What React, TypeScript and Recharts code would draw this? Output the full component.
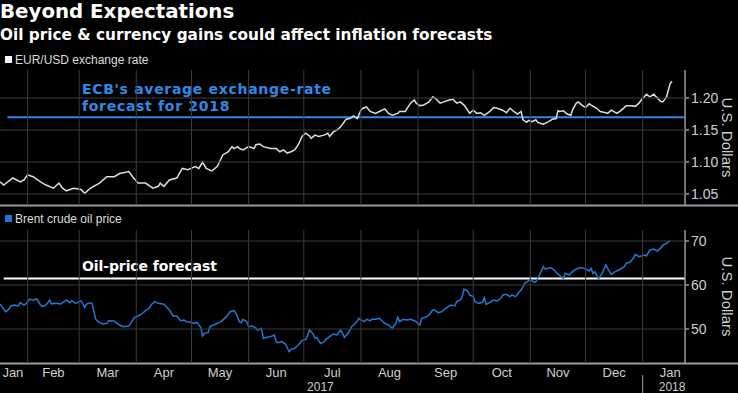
import React from 'react';
import { LineChart, Line, XAxis, YAxis, ReferenceLine } from 'recharts';

// Day-of-year index (0 = 1 Jan 2017)
const monthStarts = [31, 59, 90, 120, 151, 181, 212, 243, 273, 304, 334, 365];
const monthLabelDays = [23, 45, 74.5, 105, 135.5, 166, 196.5, 227.5, 258, 288.5, 319, 349.5, 380];
const monthLabels = ['Jan', 'Feb', 'Mar', 'Apr', 'May', 'Jun', 'Jul', 'Aug', 'Sep', 'Oct', 'Nov', 'Dec', 'Jan'];
const yearLabelDays = [190, 381];
const yearLabels = ['2017', '2018'];
const yearBreakDay = 365;

const eurDays = [16, 18, 23, 27, 29, 31, 34, 38, 41, 45, 48, 50, 52, 56, 60, 62, 65, 70, 74, 78, 81, 86, 88, 91, 95, 99, 102, 103, 105, 108, 112, 115, 118, 122, 124, 126, 128, 131, 134, 137, 140, 142, 143, 145, 146, 148, 151, 154, 155, 157, 159, 163, 166, 168, 170, 172, 174, 176, 178, 180, 182, 184, 185, 187, 189, 192, 194, 195, 197, 199, 201, 203, 204, 206, 208, 210, 212, 213, 215, 217, 220, 222, 225, 227, 229, 232, 233, 236, 239, 241, 242, 244, 246, 249, 251, 253, 255, 257, 260, 262, 264, 266, 268, 270, 271, 273, 275, 277, 279, 280, 282, 284, 286, 289, 291, 293, 295, 297, 299, 300, 302, 303, 305, 307, 308, 311, 314, 316, 318, 319, 320, 322, 324, 326, 327, 329, 330, 332, 334, 336, 337, 340, 342, 345, 346, 348, 351, 353, 355, 356, 359, 361, 363, 365, 366, 367, 369, 371, 373, 375, 376, 378, 379, 380, 381];
const eurValues = [1.069, 1.064, 1.075, 1.069, 1.072, 1.080, 1.077, 1.069, 1.064, 1.059, 1.067, 1.059, 1.055, 1.059, 1.057, 1.051, 1.059, 1.067, 1.077, 1.077, 1.082, 1.085, 1.077, 1.067, 1.067, 1.059, 1.062, 1.067, 1.062, 1.072, 1.075, 1.090, 1.088, 1.093, 1.090, 1.100, 1.090, 1.086, 1.093, 1.111, 1.116, 1.124, 1.121, 1.124, 1.121, 1.119, 1.124, 1.121, 1.127, 1.128, 1.124, 1.121, 1.121, 1.116, 1.119, 1.114, 1.116, 1.119, 1.127, 1.140, 1.145, 1.141, 1.137, 1.142, 1.140, 1.142, 1.145, 1.140, 1.147, 1.150, 1.155, 1.163, 1.167, 1.168, 1.172, 1.168, 1.181, 1.184, 1.186, 1.179, 1.176, 1.179, 1.183, 1.176, 1.173, 1.176, 1.179, 1.179, 1.192, 1.197, 1.192, 1.188, 1.189, 1.194, 1.202, 1.198, 1.192, 1.194, 1.197, 1.198, 1.192, 1.194, 1.189, 1.181, 1.176, 1.181, 1.176, 1.177, 1.173, 1.175, 1.179, 1.185, 1.184, 1.181, 1.177, 1.184, 1.179, 1.175, 1.179, 1.166, 1.162, 1.165, 1.163, 1.166, 1.162, 1.159, 1.163, 1.167, 1.168, 1.180, 1.179, 1.180, 1.175, 1.173, 1.182, 1.192, 1.194, 1.189, 1.185, 1.191, 1.189, 1.184, 1.179, 1.177, 1.176, 1.181, 1.176, 1.180, 1.185, 1.188, 1.188, 1.187, 1.192, 1.200, 1.202, 1.206, 1.202, 1.206, 1.200, 1.194, 1.194, 1.202, 1.213, 1.223, 1.226];

const oilDays = [16, 17, 19, 20, 22, 24, 26, 27, 29, 30, 32, 34, 36, 38, 39, 41, 43, 44, 46, 49, 50, 52, 54, 55, 57, 58, 60, 61, 62, 63, 65, 66, 67, 68, 70, 72, 74, 75, 78, 79, 81, 83, 86, 87, 89, 91, 93, 95, 97, 98, 100, 102, 105, 106, 108, 110, 112, 114, 116, 117, 119, 121, 123, 125, 126, 127, 129, 130, 132, 135, 136, 139, 141, 143, 144, 146, 147, 148, 150, 151, 153, 155, 156, 158, 159, 161, 163, 165, 166, 167, 169, 171, 173, 174, 176, 178, 180, 182, 183, 184, 186, 187, 188, 190, 192, 193, 195, 197, 199, 201, 202, 203, 205, 207, 209, 211, 212, 214, 215, 217, 218, 220, 222, 223, 225, 227, 229, 231, 232, 233, 235, 237, 239, 241, 242, 244, 245, 247, 249, 251, 252, 254, 256, 258, 260, 261, 263, 264, 266, 267, 268, 270, 271, 273, 274, 276, 278, 279, 280, 282, 284, 286, 288, 289, 291, 293, 294, 296, 298, 299, 301, 303, 304, 306, 307, 309, 311, 312, 314, 315, 317, 318, 320, 322, 323, 325, 327, 328, 330, 332, 334, 336, 337, 338, 339, 340, 341, 343, 345, 347, 348, 350, 352, 355, 356, 358, 360, 361, 363, 365, 366, 367, 369, 371, 373, 375, 376, 378, 379, 380];
const oilValues = [55.68, 55.08, 53.94, 54.17, 55.23, 55.45, 55.23, 55.98, 55.45, 55.68, 56.74, 56.59, 56.82, 55.45, 55.08, 55.45, 56.59, 55.68, 55.83, 55.68, 55.98, 56.59, 55.98, 56.44, 55.83, 55.98, 56.44, 55.68, 54.92, 55.68, 55.98, 55.83, 53.94, 52.2, 51.44, 51.14, 51.29, 51.89, 51.82, 51.44, 50.91, 50.53, 50.68, 51.29, 52.65, 52.95, 53.41, 54.17, 54.7, 55.45, 56.21, 55.83, 55.61, 55.23, 54.32, 52.95, 52.95, 51.89, 52.05, 51.67, 51.59, 51.29, 51.44, 50.38, 48.41, 49.01, 49.17, 50.53, 50.91, 51.44, 51.67, 52.8, 53.94, 54.17, 53.71, 51.67, 51.44, 52.2, 51.67, 50.53, 50.68, 50.15, 49.77, 50.15, 47.88, 48.11, 48.26, 48.64, 47.12, 46.89, 47.12, 46.59, 44.85, 45.38, 45.61, 46.36, 47.35, 47.65, 48.41, 49.77, 48.86, 47.88, 48.11, 46.74, 47.05, 47.65, 48.26, 48.86, 48.64, 49.77, 49.02, 48.11, 49.02, 50.53, 51.29, 52.42, 52.05, 51.67, 52.2, 51.89, 52.2, 52.2, 52.42, 52.05, 51.29, 50.91, 50.15, 51.29, 52.65, 51.67, 52.2, 52.05, 52.2, 51.89, 51.67, 50.91, 52.42, 52.65, 53.18, 54.32, 54.32, 53.71, 53.94, 54.7, 55.23, 55.45, 55.23, 56.21, 56.59, 57.35, 59.09, 58.64, 57.73, 57.35, 56.21, 55.83, 56.06, 57.12, 55.61, 56.06, 56.59, 56.36, 56.97, 57.73, 57.88, 57.35, 57.73, 57.35, 58.48, 58.86, 60.38, 60.91, 61.36, 60.61, 60.76, 62.27, 64.17, 63.64, 63.79, 63.94, 63.41, 62.88, 62.12, 61.51, 62.65, 62.27, 63.03, 63.41, 63.79, 63.94, 63.64, 63.18, 63.79, 62.65, 63.03, 62.27, 61.36, 62.65, 64.55, 63.03, 62.42, 63.03, 63.41, 64.17, 64.92, 65.15, 66.06, 66.97, 66.44, 66.67, 66.82, 66.59, 67.95, 68.18, 67.73, 68.48, 69.09, 69.47, 69.85, 70.08];

const eurTicks = [1.05, 1.1, 1.15, 1.2];
const oilTicks = [50, 60, 70];
const ecbForecast = 1.17;
const oilForecast = 61.5;

const eurData = eurDays.map((d, i) => ({ day: d, value: eurValues[i] }));
const oilData = oilDays.map((d, i) => ({ day: d, value: oilValues[i] }));

const X_DOMAIN: [number, number] = [16, 388];
const AXIS_FONT = 'Liberation Sans, Arial, sans-serif';
const BOLD_FONT = 'DejaVu Sans, Verdana, sans-serif';
const BLUE = '#2f8ae6';
const OIL_BLUE = '#1f7ad6';
const GRID = '#3c3c3c';
const AXIS_GRAY = '#9a9a9a';
const TOP_PLOT_H = 135;
const BOTTOM_PLOT_H = 133;
const TICK_GAP = 8; // default tickSize + tickMargin of an x axis

const unitLabel = (props: any) => {
  const vb = props.viewBox || {};
  const cx = vb.x + 42;
  const cy = vb.y + vb.height / 2;
  return (
    <text x={cx} y={cy} transform={`rotate(90, ${cx}, ${cy})`} textAnchor="middle" dominantBaseline="central"
      fill="#cfcfcf" fontSize={15} fontFamily={AXIS_FONT}>U.S. Dollars</text>
  );
};

// Y tick: gridline across the plot, small tick mark, label
const makeYTick = (fmt: (v: number) => string) => (props: any) => {
  const { x, y, payload } = props;
  return (
    <g>
      <line x1={0} x2={x - 6} y1={y} y2={y} stroke={GRID} strokeWidth={1} />
      <line x1={x - 6} x2={x - 2} y1={y} y2={y} stroke={AXIS_GRAY} strokeWidth={1.5} />
      <text x={x} y={y} dominantBaseline="central" fill="#cfcfcf" fontSize={14} fontFamily={AXIS_FONT}>{fmt(payload.value)}</text>
    </g>
  );
};

const vGrid = (x: number, y: number, plotH: number) => (
  <line x1={x} x2={x} y1={y - TICK_GAP - plotH} y2={y - TICK_GAP} stroke={GRID} strokeWidth={1} />
);

const TopGridTick = (props: any) => {
  const { x, y, payload } = props;
  if (monthStarts.indexOf(payload.value) < 0) return <g />;
  return vGrid(x, y, TOP_PLOT_H);
};

const LabelTick = (props: any) => {
  const { x, y, payload } = props;
  const v = payload.value;
  const parts: any[] = [];
  if (monthStarts.indexOf(v) >= 0) {
    parts.push(<g key="g">{vGrid(x, y, BOTTOM_PLOT_H)}</g>);
    if (v === yearBreakDay) {
      parts.push(<line key="s" x1={x} x2={x} y1={y + 4} y2={y + 26} stroke={AXIS_GRAY} strokeWidth={1} />);
    }
  }
  const yi = yearLabelDays.indexOf(v);
  if (yi >= 0) {
    parts.push(
      <text key="y" x={x} y={y + 20} textAnchor="middle" fill="#cfcfcf" fontSize={12} fontFamily={AXIS_FONT}>{yearLabels[yi]}</text>
    );
  }
  const mi = monthLabelDays.indexOf(v);
  if (mi >= 0) {
    parts.push(
      <text key="m" x={x} y={y + 6} textAnchor="middle" fill="#cfcfcf" fontSize={13} fontFamily={AXIS_FONT}>{monthLabels[mi]}</text>
    );
  }
  return <g>{parts}</g>;
};

const EcbLabel = (props: any) => {
  const vb = props.viewBox || {};
  return (
    <g fontFamily={BOLD_FONT} fontWeight="bold" fontSize={14} fill={BLUE} letterSpacing={0.7}>
      <text x={82} y={vb.y - 23}>ECB's average exchange-rate</text>
      <text x={82} y={vb.y - 6.5}>forecast for 2018</text>
    </g>
  );
};

const OilLabel = (props: any) => {
  const vb = props.viewBox || {};
  return (
    <text x={82} y={vb.y - 7.5} fontFamily={BOLD_FONT} fontWeight="bold" fontSize={14} fill="#ffffff" letterSpacing={-0.1}>Oil-price forecast</text>
  );
};

export default function App() {
  return (
    <div style={{ position: 'absolute', left: 0, top: 0, width: 738, height: 393, background: '#000', overflow: 'hidden' }}>
      <svg width={738} height={393} style={{ position: 'absolute', left: 0, top: 0 }}>
        <text x={0} y={18} fill="#fff" fontFamily={BOLD_FONT} fontWeight="bold" fontSize={19.8}>Beyond Expectations</text>
        <text x={0} y={40} fill="#fff" fontFamily={BOLD_FONT} fontWeight="bold" fontSize={15.3}>Oil price &amp; currency gains could affect inflation forecasts</text>
        <rect x={5} y={56} width={7} height={7} fill="#fff" />
        <text x={15} y={63.5} fill="#dcdcdc" fontFamily={AXIS_FONT} fontSize={12}>EUR/USD exchange rate</text>
        <rect x={5} y={215} width={7} height={7} fill={OIL_BLUE} />
        <text x={15} y={222.5} fill="#dcdcdc" fontFamily={AXIS_FONT} fontSize={12}>Brent crude oil price</text>
        <rect x={0} y={204.5} width={738} height={2} fill={AXIS_GRAY} />
        <rect x={0} y={362.5} width={738} height={2} fill={AXIS_GRAY} />
      </svg>

      <div style={{ position: 'absolute', left: 0, top: 70 }}>
        <LineChart width={738} height={TOP_PLOT_H + 2} data={eurData} margin={{ top: 0, right: 0, bottom: 0, left: 0 }}>
          <XAxis dataKey="day" type="number" domain={X_DOMAIN} ticks={monthStarts} allowDataOverflow interval={0}
            height={2} tick={TopGridTick} tickLine={false} axisLine={false} />
          <YAxis orientation="right" type="number" domain={[1.0328, 1.2438]} ticks={eurTicks} allowDataOverflow interval={0}
            width={53} tick={makeYTick((v) => v.toFixed(2))} tickLine={false} tickSize={4} tickMargin={2}
            axisLine={{ stroke: AXIS_GRAY, strokeWidth: 1.5 }} label={{ content: unitLabel }} />
          <ReferenceLine segment={[{ x: 20, y: ecbForecast }, { x: 388, y: ecbForecast }]}
            stroke={BLUE} strokeWidth={2} label={{ content: EcbLabel }} ifOverflow="visible" />
          <Line dataKey="value" stroke="#dedede" strokeWidth={1.5} dot={false} isAnimationActive={false} />
        </LineChart>
      </div>

      <div style={{ position: 'absolute', left: 0, top: 230 }}>
        <LineChart width={738} height={BOTTOM_PLOT_H + 30} data={oilData} margin={{ top: 0, right: 0, bottom: 0, left: 0 }}>
          <XAxis dataKey="day" type="number" domain={X_DOMAIN}
            ticks={[...monthStarts, ...monthLabelDays, ...yearLabelDays]} allowDataOverflow
            height={30} tick={LabelTick} tickLine={false} axisLine={false} interval={0} />
          <YAxis orientation="right" type="number" domain={[42.27, 72.5]} ticks={oilTicks} allowDataOverflow interval={0}
            width={53} tick={makeYTick((v) => String(v))} tickLine={false} tickSize={4} tickMargin={2}
            axisLine={{ stroke: AXIS_GRAY, strokeWidth: 1.5 }} label={{ content: unitLabel }} />
          <ReferenceLine segment={[{ x: 18, y: oilForecast }, { x: 388, y: oilForecast }]}
            stroke="#ffffff" strokeWidth={2} label={{ content: OilLabel }} ifOverflow="visible" />
          <Line dataKey="value" stroke={OIL_BLUE} strokeWidth={1.5} dot={false} isAnimationActive={false} />
        </LineChart>
      </div>
    </div>
  );
}
